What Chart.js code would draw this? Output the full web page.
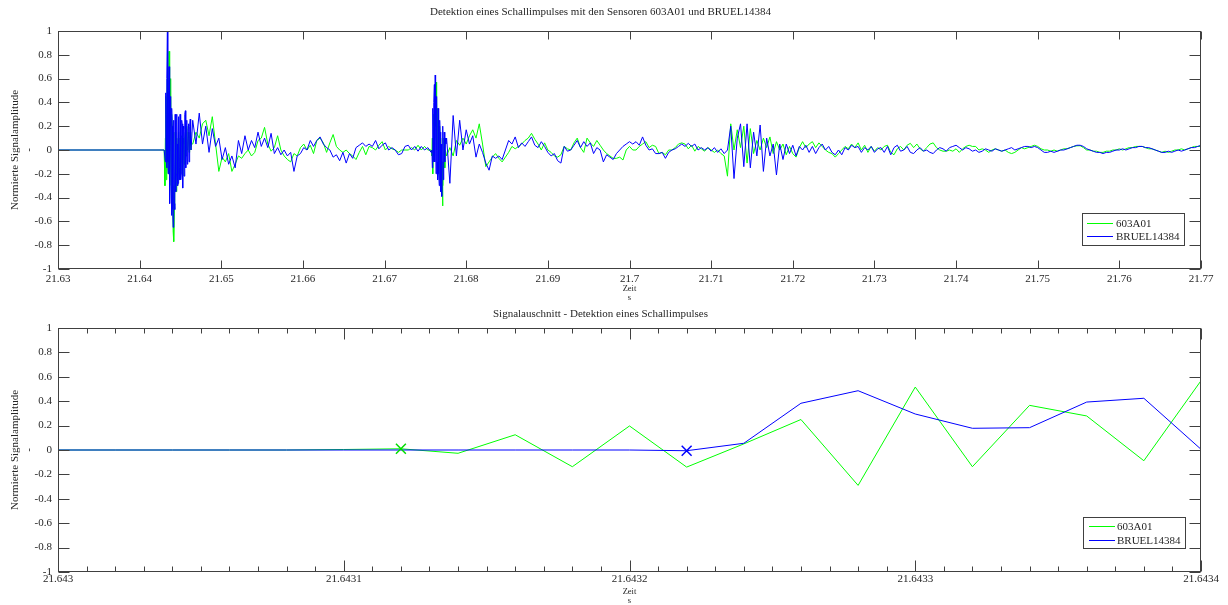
<!DOCTYPE html>
<html>
<head>
<meta charset="utf-8">
<script src="https://cdn.jsdelivr.net/npm/chart.js@4.4.1/dist/chart.umd.min.js"></script>
<style>
  html, body { margin: 0; padding: 0; background: #ffffff; }
  canvas { display: block; }
</style>
</head>
<body>
<canvas id="top" width="1228" height="302"></canvas>
<canvas id="bottom" width="1228" height="303"></canvas>
<script>
// ---------------- DATA ----------------
const sensorLabels = ['603A01', 'BRUEL14384'];

const topTitle = 'Detektion eines Schallimpulses mit den Sensoren 603A01 und BRUEL14384';
const bottomTitle = 'Signalauschnitt - Detektion eines Schallimpulses';
const xTitleLines = ['Zeit', 's'];
const yTitleLines = ['Normierte Signalamplitude', '-'];

const yTickValues = [-1, -0.8, -0.6, -0.4, -0.2, 0, 0.2, 0.4, 0.6, 0.8, 1];
const yTickLabels = ['-1', '-0.8', '-0.6', '-0.4', '-0.2', '0', '0.2', '0.4', '0.6', '0.8', '1'];

const topTickValues = [21.63, 21.64, 21.65, 21.66, 21.67, 21.68, 21.69, 21.7, 21.71, 21.72, 21.73, 21.74, 21.75, 21.76, 21.77];
const topTickLabels = ['21.63', '21.64', '21.65', '21.66', '21.67', '21.68', '21.69', '21.7', '21.71', '21.72', '21.73', '21.74', '21.75', '21.76', '21.77'];

const bottomMajorValues = [21.643, 21.6431, 21.6432, 21.6433, 21.6434];
const bottomMajorLabels = ['21.643', '21.6431', '21.6432', '21.6433', '21.6434'];
const bottomMinorPerMajor = 10;

// top plot: full recording, stored as segments (start time, sample step, values)
const flatTimes = [21.63, 21.643];
const flatValues = [0, 0];

const burst1Start = 21.6431, burst1Step = 0.00005;
const greenBurst1 = [
  -0.3,0.1,0.45,-0.25,-0.1, 0.4,0.6,-0.15,-0.2,0.5, 0.83,0.1,-0.3,0.3,0.6,
  -0.2,-0.5,0.3,0.15,-0.4, -0.68,-0.3,-0.77,-0.5,-0.3, 0.15,0.1,-0.2,-0.35,0.1,
  0.0,-0.3,-0.2,0.15,0.1, -0.15,-0.25,0.1,0.05,-0.2, -0.1,0.12,0.1,-0.15,-0.22,
  0.1,0.05,-0.12,-0.1,0.1, 0.15,-0.05,0.0,0.2,0.12, 0.0,0.02,0.15,0.1,-0.02,
  0.0,0.1,0.15,0.0,0.05];
const blueBurst1 = [
  0.0,-0.1,0.48,0.3,-0.15, 0.6,1.0,-0.1,-0.2,0.5, 0.7,-0.3,-0.45,0.2,0.45,
  -0.3,-0.55,0.35,0.2,-0.5, -0.65,0.25,0.1,-0.45,-0.5, 0.3,0.15,-0.35,-0.2,0.3,
  0.05,-0.3,-0.28,0.2,0.28, -0.25,-0.15,0.3,0.05,-0.25, -0.2,0.25,0.22,-0.28,-0.32,
  0.2,0.18,-0.22,-0.18,0.3, 0.33,-0.15,-0.05,0.2,0.25, -0.12,-0.1,0.18,0.22,-0.1,
  -0.02,0.2,0.26,0.05,0.0];

const coarse1Start = 21.6465, coarse1Step = 0.0004;
const greenCoarse1 = [
  0.05,0.15,0.1,0.22,0.25,0.12,0.28,0.05,-0.18,-0.06,
  -0.1,-0.03,-0.18,-0.12,-0.05,-0.07,-0.03,0.0,-0.05,-0.02,
  0.08,0.1,0.19,0.05,-0.01,0.02,0.12,0.0,-0.05,-0.08,
  -0.1,-0.03,-0.05,0.02,0.05,0.0,0.04,-0.03,0.08,0.1,
  0.06,-0.02,0.06,0.13,0.03,0.0,-0.02,0.0,-0.03,-0.05,
  -0.08,-0.02,0.03,-0.04,0.03,0.02,0.0,0.04,0.07,0.0,
  0.03,0.01,0.0,-0.02,0.0,0.0,0.0,0.02,0.0,0.04,
  0.0,0.03,0.0,0.0];
const blueCoarse1 = [
  0.25,0.05,0.31,0.05,0.2,-0.02,0.18,0.03,0.1,-0.08,
  0.02,-0.12,-0.05,-0.15,0.08,-0.03,0.12,0.0,0.08,0.02,
  0.15,0.03,0.1,0.02,0.14,-0.03,0.02,-0.04,0.0,-0.05,
  -0.02,-0.18,-0.05,-0.03,0.02,0.0,0.08,0.03,0.08,0.11,
  0.05,0.02,0.0,-0.06,-0.04,-0.09,-0.02,-0.11,-0.03,-0.07,
  0.02,0.04,0.06,0.03,0.05,0.03,0.08,0.01,0.04,0.06,
  0.0,0.02,0.0,-0.04,-0.03,0.03,0.04,0.0,0.03,-0.01,
  0.03,0.0,0.02,-0.02];

const burst2Start = 21.6758, burst2Step = 0.00005;
const greenBurst2 = [
  -0.05,0.1,-0.2,0.05,0.3, -0.05,0.1,0.3,0.45,0.2, 0.57,0.25,0.0,0.2,0.35,
  -0.05,-0.1,0.15,0.2,-0.1, -0.25,0.1,0.0,-0.2,-0.35, -0.1,-0.47,-0.3,-0.1,0.1,
  0.05,-0.1,-0.15,0.0,0.0];
const blueBurst2 = [
  0.0,-0.15,0.35,0.2,-0.1, 0.4,0.55,-0.1,0.63,0.3, -0.2,0.2,0.45,-0.1,-0.25,
  0.35,0.3,-0.2,-0.3,0.25, 0.15,-0.25,-0.35,0.05,-0.39, -0.1,0.1,0.2,-0.25,-0.1,
  0.15,0.0,-0.1,0.1,0.05];

const coarse2Start = 21.6776, coarse2Step = 0.0004;
const greenCoarse2 = [
  -0.05,0.02,-0.05,0.08,0.04,0.1,0.05,0.12,0.17,0.1,
  0.22,0.05,-0.14,-0.1,-0.06,-0.03,-0.07,-0.1,-0.06,-0.02,
  0.03,0.01,0.03,0.05,0.08,0.1,0.14,0.09,0.05,0.0,
  0.06,0.0,-0.02,-0.05,-0.06,-0.04,0.03,0.01,0.0,0.06,
  0.1,0.02,-0.02,0.1,0.06,0.03,0.08,0.04,0.0,-0.03,
  -0.05,-0.07,-0.07,-0.06,-0.084,0.0,0.03,0.0,0.0,0.03,
  0.05,0.07,0.02,0.04,0.03,-0.03,-0.02,-0.04,0.0,0.0,
  0.02,0.05,0.06,0.05,0.01,0.04,-0.01,0.03,0.01,-0.01,
  0.02,0.0,-0.02,0.0,-0.03,-0.05,-0.22,0.22,0.0,0.17,
  0.02,0.2,-0.11,0.18,-0.03,0.08,0.0,0.1,0.02,0.11,
  -0.03,0.07,0.0,0.05,-0.04,0.03,-0.03,-0.06,0.02,0.07,
  0.02,0.05,0.07,0.02,0.06,0.03,0.0,-0.02,-0.03,-0.06,
  -0.03,0.0,0.03,0.01,0.05,0.02,0.06,0.0,0.04,-0.02,
  0.03,-0.01,0.02,0.0,0.03,0.04,-0.02,-0.04,0.01,0.03,
  0.0,0.04,0.056,0.02,0.05,0.01,-0.01,0.02,0.05,0.06,
  0.02,0.0,-0.01,-0.01,0.0,-0.01,0.01,-0.02,0.01,0.03,
  0.04,0.03,0.03,0.0,0.01,0.0,-0.02,0.0,0.01,0.0,
  -0.01,0.0,-0.02,-0.03,-0.02,0.0,0.02,0.01,0.02,0.03,
  0.04,0.03,0.01,0.0,0.0,-0.01,0.0,-0.01,0.0,0.01,
  0.01,0.02,0.03,0.035,0.036,0.02,0.0,0.0,-0.01,-0.01,
  -0.02,-0.02,-0.01,-0.01,0.0,0.0,0.01,0.0,0.01,0.02,
  0.02,0.03,0.03,0.03,0.02,0.01,0.01,0.0,-0.01,-0.02,
  -0.01,-0.02,-0.01,0.0,0.0,0.01,0.0,0.01,0.02,0.03,
  0.03,0.03];
const blueCoarse2 = [
  0.1,-0.28,0.29,-0.05,0.25,0.0,0.17,0.05,0.12,-0.06,
  0.05,-0.02,-0.11,-0.17,-0.05,-0.07,-0.05,-0.08,0.0,0.08,
  0.05,0.11,0.02,0.06,0.03,0.07,0.11,0.04,0.02,0.07,
  0.03,-0.02,-0.05,-0.03,-0.09,-0.11,0.03,-0.01,0.0,0.04,
  0.08,0.02,0.07,0.03,0.06,-0.03,0.02,0.0,-0.1,-0.04,
  -0.06,-0.08,-0.03,0.0,0.03,0.05,0.07,0.05,0.07,0.04,
  0.11,0.04,0.0,0.01,-0.03,-0.03,-0.02,-0.07,-0.02,0.0,
  0.01,0.03,0.05,0.03,0.056,0.03,0.05,0.0,0.02,0.0,
  0.02,-0.01,0.02,-0.02,0.01,-0.03,0.0,0.2,-0.24,0.1,
  0.22,-0.14,0.22,-0.15,0.15,-0.05,0.21,-0.18,0.1,-0.05,
  0.05,-0.21,0.05,-0.08,0.05,-0.03,0.04,-0.05,0.03,0.0,
  0.04,-0.02,0.03,-0.03,0.02,0.05,0.0,0.03,-0.02,-0.04,
  0.0,-0.04,0.02,0.0,0.04,0.02,0.03,-0.02,0.02,0.0,
  0.03,-0.02,0.01,0.02,-0.02,0.03,-0.04,0.02,0.04,-0.01,
  0.0,0.03,-0.02,-0.03,0.0,0.02,-0.01,0.0,-0.02,-0.03,
  0.0,0.02,0.01,-0.01,0.02,0.03,0.04,0.02,0.0,0.02,
  0.01,-0.01,0.0,-0.02,-0.01,0.01,0.0,-0.01,0.01,0.0,
  -0.01,0.0,0.01,0.02,0.0,0.01,0.02,0.03,0.03,0.02,
  0.03,0.02,0.0,-0.02,-0.02,-0.01,-0.02,-0.01,0.0,0.0,
  0.01,0.02,0.03,0.04,0.04,0.03,0.01,0.0,-0.01,-0.02,
  -0.02,-0.03,-0.02,-0.02,-0.01,0.0,0.0,0.01,0.0,0.01,
  0.02,0.02,0.03,0.03,0.02,0.02,0.01,0.0,-0.01,-0.02,
  -0.02,-0.01,-0.02,-0.01,0.0,-0.01,0.0,0.01,0.02,0.02,
  0.03,0.04];

// bottom plot: signal excerpt around the detection, 50 kHz samples
const zoomStart = 21.643, zoomStep = 0.00002;
const greenZoom = [0,0,0,0,0,0.004,0.01,-0.027,0.125,-0.137,0.197,-0.14,0.05,0.25,-0.29,0.516,-0.137,0.366,0.279,-0.088,0.568];
const blueZoom  = [0,0,0,0,0,0,0,0,0,0,0,-0.006,0.055,0.383,0.486,0.295,0.178,0.183,0.393,0.424,0.006];
const detectionIndexGreen = 6;
const detectionIndexBlue = 11;

// ---------------- STYLE ----------------
const FONT = "'Liberation Serif', 'Times New Roman', serif";
const TEXT = '#262626';
const AXIS = '#404040';
const GREEN = 'rgb(0,255,0)';
const BLUE = 'rgb(0,0,255)';

// ---------------- HELPERS ----------------
function segment(start, step, values) {
  return values.map((v, i) => ({ x: start + i * step, y: v }));
}
function buildTop(burst1, coarse1, burst2, coarse2) {
  return [].concat(
    flatTimes.map((t, i) => ({ x: t, y: flatValues[i] })),
    segment(burst1Start, burst1Step, burst1),
    segment(coarse1Start, coarse1Step, coarse1),
    segment(burst2Start, burst2Step, burst2),
    segment(coarse2Start, coarse2Step, coarse2)
  );
}

const matlabAxes = {
  id: 'matlabAxes',
  afterDatasetsDraw(chart, args, o) {
    const { ctx, chartArea: a, scales } = chart;
    const x = scales.x, y = scales.y;
    const L = Math.round(a.left) + 0.5, R = Math.round(a.right) - 0.5;
    const T = Math.round(a.top) + 0.5, B = Math.round(a.bottom) - 0.5;
    ctx.save();
    ctx.strokeStyle = AXIS;
    ctx.lineWidth = 1;
    ctx.beginPath();
    x.ticks.forEach(t => {
      const px = Math.round(x.getPixelForValue(t.value)) + 0.5;
      const len = t.minor ? o.xMinorLen : o.xLen;
      ctx.moveTo(px, B); ctx.lineTo(px, B - len);
      ctx.moveTo(px, T); ctx.lineTo(px, T + len);
    });
    y.ticks.forEach(t => {
      const py = Math.round(y.getPixelForValue(t.value)) + 0.5;
      ctx.moveTo(L, py); ctx.lineTo(L + o.yLen, py);
      ctx.moveTo(R, py); ctx.lineTo(R - o.yLen, py);
    });
    ctx.stroke();
    ctx.strokeRect(L, T, R - L, B - T);
    ctx.restore();
  }
};

const boxLegend = {
  id: 'boxLegend',
  afterDatasetsDraw(chart, args, o) {
    const { ctx, chartArea: a } = chart;
    const items = chart.data.datasets.filter(d => d.inLegend);
    const right = Math.round(a.right - o.offsetRight);
    const bottom = Math.round(a.bottom - o.offsetBottom);
    const left = right - o.width, top = bottom - o.height;
    ctx.save();
    ctx.fillStyle = '#ffffff';
    ctx.fillRect(left, top, o.width, o.height);
    ctx.strokeStyle = AXIS;
    ctx.lineWidth = 1;
    ctx.strokeRect(left + 0.5, top + 0.5, o.width, o.height);
    ctx.font = '11px ' + FONT;
    ctx.textBaseline = 'middle';
    ctx.textAlign = 'left';
    items.forEach((d, i) => {
      const yy = Math.round(top + o.rowStart + i * o.rowGap) + 0.5;
      ctx.strokeStyle = d.borderColor;
      ctx.beginPath();
      ctx.moveTo(left + o.lineStart, yy);
      ctx.lineTo(left + o.lineEnd, yy);
      ctx.stroke();
      ctx.fillStyle = TEXT;
      ctx.fillText(d.label, left + o.textStart, yy + 0.5);
    });
    ctx.restore();
  }
};

function yScale() {
  return {
    type: 'linear', min: -1, max: 1,
    afterBuildTicks: s => { s.ticks = yTickValues.map(v => ({ value: v })); },
    afterFit: s => { s.width = 58; },
    grid: { display: false, drawTicks: false },
    border: { display: false },
    ticks: {
      callback: (v, i) => yTickLabels[i],
      font: { family: FONT, size: 11 }, color: TEXT, padding: 6, autoSkip: false
    },
    title: {
      display: true, text: yTitleLines,
      font: { family: FONT, size: 11, lineHeight: 1.2 }, color: TEXT,
      padding: { top: 9, bottom: 0 }
    }
  };
}

function xScale(min, max, tickList, pad) {
  return {
    type: 'linear', min: min, max: max,
    afterBuildTicks: s => { s.ticks = tickList.map(t => ({ value: t.value, minor: t.minor, lbl: t.lbl })); },
    afterFit: s => { s.height = 33; },
    grid: { display: false, drawTicks: false },
    border: { display: false },
    ticks: {
      callback: (v, i, ticks) => ticks[i].lbl,
      font: { family: FONT, size: 11 }, color: TEXT, padding: pad,
      autoSkip: false, maxRotation: 0, minRotation: 0
    },
    title: {
      display: true, text: xTitleLines,
      font: { family: FONT, size: 8.5, lineHeight: 1.05 }, color: TEXT,
      padding: { top: 0, bottom: 0 }
    }
  };
}

function lineDs(label, color, data, order) {
  return {
    label: label, data: data, borderColor: color, backgroundColor: color,
    borderWidth: 1, pointRadius: 0, tension: 0, fill: false, order: order, inLegend: true
  };
}

// ---------------- TOP CHART ----------------
const topTicks = topTickValues.map((v, i) => ({ value: v, minor: false, lbl: topTickLabels[i] }));

new Chart(document.getElementById('top'), {
  type: 'line',
  data: {
    datasets: [
      lineDs(sensorLabels[0], GREEN, buildTop(greenBurst1, greenCoarse1, greenBurst2, greenCoarse2), 1),
      lineDs(sensorLabels[1], BLUE, buildTop(blueBurst1, blueCoarse1, blueBurst2, blueCoarse2), 0)
    ]
  },
  options: {
    responsive: false, animation: false, events: [],
    layout: { padding: { left: 0, right: 27, top: 0, bottom: 0 } },
    scales: {
      x: xScale(21.63, 21.77, topTicks, 3.5),
      y: yScale()
    },
    plugins: {
      legend: { display: false },
      tooltip: { enabled: false },
      title: {
        display: true, text: topTitle, color: TEXT,
        font: { family: FONT, size: 11, weight: 'normal', lineHeight: 1.2 },
        padding: { top: 5.4, bottom: 12.4 }
      },
      matlabAxes: { xLen: 8, xMinorLen: 5, yLen: 11 },
      boxLegend: { offsetRight: 17, offsetBottom: 24, width: 102, height: 32, rowStart: 10, rowGap: 13, lineStart: 5, lineEnd: 31, textStart: 34 }
    }
  },
  plugins: [matlabAxes, boxLegend]
});

// ---------------- BOTTOM CHART ----------------
const bottomTicks = [];
bottomMajorValues.forEach((v, i) => {
  bottomTicks.push({ value: v, minor: false, lbl: bottomMajorLabels[i] });
  if (i < bottomMajorValues.length - 1) {
    const d = (bottomMajorValues[i + 1] - v) / bottomMinorPerMajor;
    for (let j = 1; j < bottomMinorPerMajor; j++) bottomTicks.push({ value: v + j * d, minor: true, lbl: '' });
  }
});

const zoomGreenPts = greenZoom.map((v, k) => ({ x: zoomStart + k * zoomStep, y: v }));
const zoomBluePts = blueZoom.map((v, k) => ({ x: zoomStart + k * zoomStep, y: v }));

function markerDs(label, color, pt) {
  return {
    label: label, data: [pt], showLine: false, borderColor: color, backgroundColor: color,
    pointStyle: 'crossRot', pointRadius: 7, pointBorderWidth: 1.5, order: -1, inLegend: false
  };
}

new Chart(document.getElementById('bottom'), {
  type: 'line',
  data: {
    datasets: [
      lineDs(sensorLabels[0], GREEN, zoomGreenPts, 1),
      lineDs(sensorLabels[1], BLUE, zoomBluePts, 0),
      markerDs(sensorLabels[0] + ' Detektion', 'rgb(0,220,0)', zoomGreenPts[detectionIndexGreen]),
      markerDs(sensorLabels[1] + ' Detektion', BLUE, zoomBluePts[detectionIndexBlue])
    ]
  },
  options: {
    responsive: false, animation: false, events: [],
    layout: { padding: { left: 0, right: 27, top: 0, bottom: 0 } },
    scales: {
      x: xScale(21.643, 21.6434, bottomTicks, 1),
      y: yScale()
    },
    plugins: {
      legend: { display: false },
      tooltip: { enabled: false },
      title: {
        display: true, text: bottomTitle, color: TEXT,
        font: { family: FONT, size: 11, weight: 'normal', lineHeight: 1.2 },
        padding: { top: 5.4, bottom: 7.4 }
      },
      matlabAxes: { xLen: 11, xMinorLen: 5, yLen: 11 },
      boxLegend: { offsetRight: 16, offsetBottom: 24, width: 102, height: 31, rowStart: 9, rowGap: 14, lineStart: 6, lineEnd: 32, textStart: 34 }
    }
  },
  plugins: [matlabAxes, boxLegend]
});
</script>
</body>
</html>
